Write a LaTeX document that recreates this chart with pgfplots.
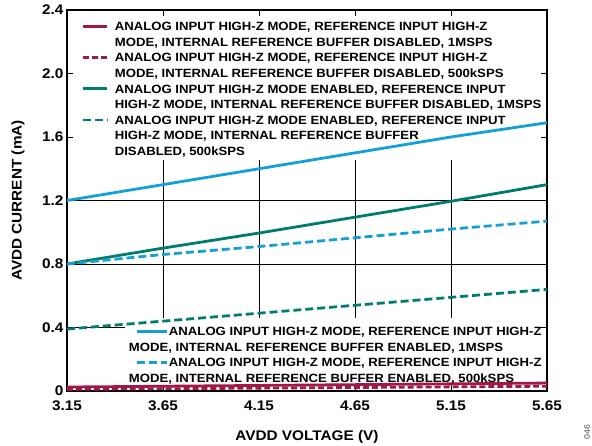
\documentclass[border=0pt]{standalone}
\usepackage{fontspec}
\setmainfont{Liberation Sans}[FakeStretch=1.1]
\usepackage{pgfplots}
\pgfplotsset{compat=1.18}
\definecolor{crim}{RGB}{160,24,70}
\definecolor{teal2}{RGB}{0,124,110}
\definecolor{cyan2}{RGB}{18,160,215}
\newcommand{\legfont}{\fontsize{12}{15.7}\selectfont\bfseries}

\begin{document}
\begin{tikzpicture}
\path[use as bounding box] (-67bp,-55bp) rectangle (525bp,391bp);
\begin{axis}[
  at={(0,0)}, anchor=south west,
  scale only axis, width=480bp, height=381bp,
  xmin=3.15, xmax=5.65, ymin=0, ymax=2.4,
  xtick={3.15,3.65,4.15,4.65,5.15,5.65},
  xticklabels={3.15,3.65,4.15,4.65,5.15,5.65},
  ytick={0,0.4,0.8,1.2,1.6,2.0,2.4},
  yticklabels={0,0.4,0.8,1.2,1.6,2.0,2.4},
  /pgf/number format/assume math mode=true,
  tick align=inside, major tick length=5bp,
  xtick pos=both, ytick pos=both,
  tick style={black, line width=0.8pt},
  grid=major, grid style={black, line width=0.8pt},
  axis line style={black, line width=1.3pt},
  ticklabel style={font=\fontsize{14}{16}\selectfont\bfseries},
  xticklabel style={yshift=-6pt},
  xlabel={AVDD VOLTAGE (V)}, ylabel={AVDD CURRENT (mA)},
  label style={font=\fontsize{14}{17}\selectfont\bfseries},
  xlabel style={at={(axis description cs:0.5,-0.121)}, anchor=center},
  ylabel style={at={(axis description cs:-0.102,0.5)}, anchor=center},
  legend style={at={(axis description cs:0.031,0.9756)}, anchor=north west,
    draw=none, fill=none, inner sep=0pt, row sep=0pt, column sep=6pt,
    font=\legfont, cells={anchor=base west}, nodes={inner sep=0pt, text depth={}}},
  legend image code/.code={\draw[#1] (0bp,4.3bp) -- (24bp,4.3bp);},
]
\fill[white] (axis cs:3.181,1.455) rectangle (axis cs:5.619,2.362);
\fill[white] (axis cs:3.452,0.038) rectangle (axis cs:5.619,0.46);

\addplot[crim, line width=2.8pt] coordinates {(3.15,0.025) (3.65,0.030) (4.15,0.035) (4.65,0.040) (5.15,0.045) (5.65,0.050)};
\addlegendentry{\begin{tabular}[t]{@{}l@{}}ANALOG INPUT HIGH-Z MODE, REFERENCE INPUT HIGH-Z\\MODE, INTERNAL REFERENCE BUFFER DISABLED, 1MSPS\end{tabular}}
\addplot[crim, line width=2.8pt, dash pattern=on 6pt off 3pt] coordinates {(3.15,0.010) (3.65,0.014) (4.15,0.018) (4.65,0.022) (5.15,0.026) (5.65,0.030)};
\addlegendentry{\begin{tabular}[t]{@{}l@{}}ANALOG INPUT HIGH-Z MODE, REFERENCE INPUT HIGH-Z\\MODE, INTERNAL REFERENCE BUFFER DISABLED, 500kSPS\end{tabular}}
\addplot[teal2, line width=2.8pt] coordinates {(3.15,0.80) (3.65,0.90) (4.15,0.995) (4.65,1.095) (5.15,1.195) (5.65,1.30)};
\addlegendentry{\begin{tabular}[t]{@{}l@{}}ANALOG INPUT HIGH-Z MODE ENABLED, REFERENCE INPUT\\HIGH-Z MODE, INTERNAL REFERENCE BUFFER DISABLED, 1MSPS\end{tabular}}
\addplot[teal2, line width=2.8pt, dash pattern=on 8pt off 4pt] coordinates {(3.15,0.39) (3.65,0.44) (4.15,0.49) (4.65,0.54) (5.15,0.59) (5.65,0.64)};
\addlegendentry{\begin{tabular}[t]{@{}l@{}}ANALOG INPUT HIGH-Z MODE ENABLED, REFERENCE INPUT\\HIGH-Z MODE, INTERNAL REFERENCE BUFFER\\DISABLED, 500kSPS\end{tabular}}
\end{axis}

\begin{axis}[
  at={(0,0)}, anchor=south west,
  scale only axis, width=480bp, height=381bp,
  xmin=3.15, xmax=5.65, ymin=0, ymax=2.4,
  hide axis,
  legend style={at={(axis description cs:0.1417,0.175)}, anchor=north west,
    draw=none, fill=none, inner sep=0pt, row sep=0pt, column sep=1pt,
    font=\legfont, cells={anchor=base west}, nodes={inner sep=0pt, text depth={}}},
  legend image code/.code={\draw[#1] (0bp,4.3bp) -- (30bp,4.3bp);},
]
\addplot[cyan2, line width=2.8pt] coordinates {(3.15,1.20) (3.65,1.30) (4.15,1.40) (4.65,1.50) (5.15,1.60) (5.65,1.69)};
\addlegendentry{\begin{tabular}[t]{@{}l@{}}ANALOG INPUT HIGH-Z MODE, REFERENCE INPUT HIGH-Z\\\hspace*{-40bp}MODE, INTERNAL REFERENCE BUFFER ENABLED, 1MSPS\end{tabular}}
\addplot[cyan2, line width=2.8pt, dash pattern=on 8pt off 4pt] coordinates {(3.15,0.80) (3.65,0.86) (4.15,0.91) (4.65,0.965) (5.15,1.02) (5.65,1.07)};
\addlegendentry{\begin{tabular}[t]{@{}l@{}}ANALOG INPUT HIGH-Z MODE, REFERENCE INPUT HIGH-Z\\\hspace*{-40bp}MODE, INTERNAL REFERENCE BUFFER ENABLED, 500kSPS\end{tabular}}
\end{axis}
\node[rotate=90, font=\fontsize{8}{9}\selectfont, text=black!70] at (520bp,-41bp) {046};
\end{tikzpicture}
\end{document}
